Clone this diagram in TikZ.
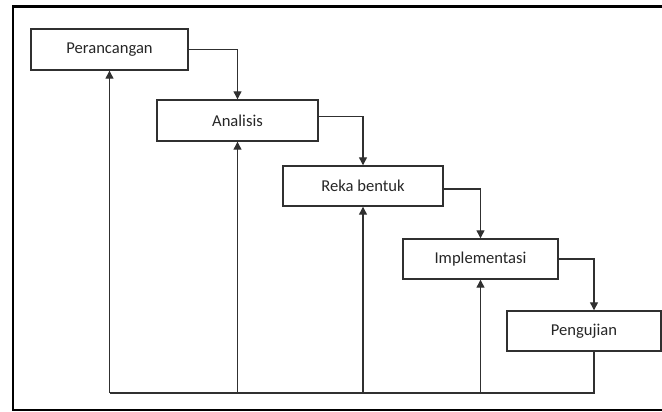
\documentclass[tikz,border=0pt]{standalone}
\usepackage{fontspec}
\setmainfont{Carlito}
\usetikzlibrary{arrows.meta,calc,positioning}
\definecolor{linegray}{HTML}{303030}
\tikzset{
  phase/.style={draw=linegray,rectangle,line width=1pt,inner sep=0pt,text=black!85,font=\fontsize{11.8}{14}\selectfont},
  flow/.style={-{Triangle[length=2mm,width=2mm]},line width=0.9pt,linegray},
  back/.style={-{Triangle[length=2mm,width=2mm]},line width=0.9pt,linegray},
  baseline/.style={line width=0.9pt,linegray},
  frame/.style={draw,black,line width=1.5pt},
}
\begin{document}
\begin{tikzpicture}[x=0.025cm,y=-0.025cm]

  \useasboundingbox (0,0) rectangle (662,412);
  \draw[frame] (662,6.5) -| (13,410) -- (662,410);

  % tahap-tahap (air terjun)
  \node[phase,minimum width=3.925cm,minimum height=1.025cm] (per) at (109.5,49.5) {Perancangan};
  \node[phase,minimum width=4.025cm,minimum height=1.025cm] (ana) at (237.5,120.5) {Analisis};
  \node[phase,minimum width=4cm,minimum height=1cm] (rek) at (363,186) {Reka bentuk};
  \node[phase,minimum width=3.875cm,minimum height=1cm] (imp) at (480.5,259) {Implementasi};
  \node[phase,minimum width=3.85cm,minimum height=1cm] (pen) at (584,331) {Pengujian};

  % aliran ke bawah
  \draw[flow] (per.east) -| (ana.north);
  \draw[flow] ([yshift=1mm]ana.east) -| (rek.north);
  \draw[flow] ([yshift=-0.75mm]rek.east) -| (imp.north);
  \draw[flow] (imp.east) -| ([xshift=2.5mm]pen.north);

  % umpan balik
  \coordinate (base) at (109.5,393);
  \draw[baseline] ([xshift=2.5mm]pen.south) |- (base);
  \draw[back] (base) -- (per.south);
  \draw[back] (ana.south |- base) -- (ana.south);
  \draw[back] (rek.south |- base) -- (rek.south);
  \draw[back] (imp.south |- base) -- (imp.south);

\end{tikzpicture}
\end{document}
